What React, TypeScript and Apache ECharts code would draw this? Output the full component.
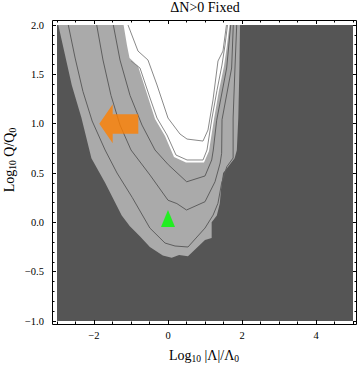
import React, { useEffect, useRef } from "react";
import * as echarts from "echarts";

// ---- tick definitions ----
const xMajorTicks = [-2, 0, 2, 4];
const xMinorStep = 0.5;
const yMajorStep = 0.5;
const yMinorStep = 0.1;

// ---- region boundaries (data units: x = Log10 |Λ|/Λ0, y = Log10 Q/Q0) ----
const lightRegion = [
  [-2.965, 2.0], [-2.6, 1.39], [-2.34, 1.06], [-2.07, 0.65], [-1.7, 0.4],
  [-1.25, 0.07], [-1.03, -0.04], [-0.76, -0.14], [-0.49, -0.25], [-0.14, -0.335],
  [0.1, -0.36], [0.3, -0.33], [0.54, -0.345], [1.0, -0.18], [1.18, -0.16],
  [1.18, 0.0], [1.32, 0.07], [1.4, 0.19], [1.45, 0.4], [1.49, 0.5],
  [1.62, 0.56], [1.8, 0.65], [1.86, 0.73], [1.9, 1.06], [1.93, 1.56], [1.946, 2.0],
];

const whiteRegion = [
  [-1.2, 2.0], [-1.11, 1.797], [-1.04, 1.665], [-0.811, 1.584], [-0.541, 1.27],
  [-0.351, 1.047], [-0.081, 0.875], [0.162, 0.662], [0.486, 0.606], [0.973, 0.606],
  [1.108, 0.723], [1.243, 1.047], [1.378, 1.338], [1.514, 1.584], [1.595, 1.797],
  [1.662, 2.0],
];

const contour1 = [
  [-2.695, 2.0], [-2.51, 1.665], [-2.3, 1.328], [-2.05, 1.027], [-1.7, 0.733],
  [-1.378, 0.5], [-0.97, 0.254], [-0.49, -0.058], [-0.08, -0.21], [0.19, -0.24],
  [0.54, -0.25], [1.0, -0.058], [1.22, 0.074], [1.35, 0.193], [1.45, 0.398],
  [1.59, 0.564], [1.76, 0.652], [1.76, 0.733], [1.76, 1.057], [1.81, 1.564], [1.857, 2.0],
];

const contour2 = [
  [-1.927, 2.0], [-1.757, 1.645], [-1.541, 1.287], [-1.297, 0.986], [-1.0, 0.733],
  [-0.486, 0.479], [0.0, 0.224], [0.24, 0.19], [0.5, 0.125], [1.0, 0.209],
  [1.27, 0.411], [1.41, 0.601], [1.45, 0.7], [1.46, 1.04], [1.72, 1.564], [1.765, 2.0],
];

const contour3 = [
  [-1.478, 2.0], [-1.297, 1.645], [-1.027, 1.287], [-0.703, 0.986], [-0.351, 0.733],
  [0.008, 0.584], [0.505, 0.411], [1.0, 0.47], [1.181, 0.632], [1.224, 0.733],
  [1.316, 1.035], [1.586, 1.564], [1.695, 2.0],
];

const whiteContour1 = [
  [-1.0, 1.635], [-0.757, 1.564], [-0.486, 1.26], [-0.297, 1.057], [-0.027, 0.885],
  [0.216, 0.682], [0.514, 0.632], [0.946, 0.632], [1.054, 0.733], [1.189, 1.057],
  [1.324, 1.338], [1.459, 1.594], [1.541, 1.797], [1.608, 2.0],
];

const whiteContour2 = [
  [-1.081, 2.0], [-0.811, 1.736], [-0.541, 1.645], [-0.297, 1.392], [0.0, 1.057],
  [0.324, 0.895], [0.514, 0.844], [0.946, 0.824], [1.081, 0.936], [1.216, 1.24],
  [1.351, 1.635], [1.486, 1.736], [1.58, 2.0],
];

const arrowMarker = [[-1.33, 1.0]];
const triangleMarker = [[0, 0.04]];

// ---- layout ----
const GRID = { left: 57, top: 25, width: 296, height: 296 };
const FRAME = { left: 52, top: 20, right: 357, bottom: 324 };
const FONT = "Liberation Serif";

const DARK = "#555555";
const LIGHT = "#aaaaaa";
const LINE = "#5e5e5e";
const WLINE = "#8a8a8a";

const fmtX = (v: number) => String(Math.round(v)).replace("-", "\u2212");
const fmtY = (v: number) => v.toFixed(1).replace("-", "\u2212");

function shapeSeries(points: number[][], kind: "polygon" | "polyline", style: any, z: number) {
  return {
    type: "custom",
    coordinateSystem: "cartesian2d",
    xAxisIndex: 0,
    yAxisIndex: 0,
    silent: true,
    z,
    data: points,
    renderItem: (params: any, api: any) => {
      if (params.dataIndex !== 0) return null;
      const pts = points.map((p) => api.coord(p));
      return { type: kind, shape: { points: pts }, style };
    },
  };
}

const baseX = {
  type: "value",
  min: -3,
  max: 5,
  axisLine: { show: false, onZero: false },
  splitLine: { show: false },
  axisPointer: { show: false },
};
const baseY = {
  type: "value",
  min: -1,
  max: 2,
  axisLine: { show: false, onZero: false },
  splitLine: { show: false },
  axisPointer: { show: false },
};
const tickStyle = { color: "#000", width: 1 };

export default function App() {
  const ref = useRef<HTMLDivElement>(null);
  useEffect(() => {
    const chart = echarts.init(ref.current!, null, { renderer: "svg" });
    const subRich = {
      s: { fontSize: 9.5, fontFamily: FONT, verticalAlign: "bottom", lineHeight: 9, fill: "#000" },
    };
    const frameLine = (x1: number, y1: number, x2: number, y2: number) => ({
      type: "line",
      z: 100,
      silent: true,
      shape: { x1, y1, x2, y2 },
      style: { stroke: "#000", lineWidth: 1 },
    });
    const L = FRAME.left + 0.5;
    const R = FRAME.right - 0.5;
    const T = FRAME.top + 0.5;
    const B = FRAME.bottom + 0.5;
    const option: any = {
      animation: false,
      backgroundColor: "#fff",
      grid: {
        left: GRID.left,
        top: GRID.top,
        width: GRID.width,
        height: GRID.height,
        show: true,
        backgroundColor: DARK,
        borderWidth: 0,
      },
      xAxis: [
        {
          ...baseX,
          position: "bottom",
          offset: 3,
          axisTick: { inside: true, length: 4, lineStyle: tickStyle, customValues: xMajorTicks },
          axisLabel: {
            customValues: xMajorTicks,
            formatter: fmtX,
            fontFamily: FONT,
            fontSize: 10.5,
            color: "#000",
            margin: 6,
          },
        },
        {
          ...baseX,
          position: "bottom",
          offset: 3,
          interval: xMinorStep,
          axisTick: { inside: true, length: 2.5, lineStyle: tickStyle },
          axisLabel: { show: false },
        },
        {
          ...baseX,
          position: "top",
          offset: 5,
          axisTick: { inside: true, length: 4, lineStyle: tickStyle, customValues: xMajorTicks },
          axisLabel: { show: false },
        },
        {
          ...baseX,
          position: "top",
          offset: 5,
          interval: xMinorStep,
          axisTick: { inside: true, length: 2.5, lineStyle: tickStyle },
          axisLabel: { show: false },
        },
      ],
      yAxis: [
        {
          ...baseY,
          position: "left",
          offset: 5,
          interval: yMajorStep,
          axisTick: { inside: true, length: 4, lineStyle: tickStyle },
          axisLabel: { formatter: fmtY, fontFamily: FONT, fontSize: 10.5, color: "#000", margin: 8 },
        },
        {
          ...baseY,
          position: "left",
          offset: 5,
          interval: yMinorStep,
          axisTick: { inside: true, length: 2.5, lineStyle: tickStyle },
          axisLabel: { show: false },
        },
        {
          ...baseY,
          position: "right",
          offset: 4,
          interval: yMajorStep,
          axisTick: { inside: true, length: 4, lineStyle: tickStyle },
          axisLabel: { show: false },
        },
        {
          ...baseY,
          position: "right",
          offset: 4,
          interval: yMinorStep,
          axisTick: { inside: true, length: 2.5, lineStyle: tickStyle },
          axisLabel: { show: false },
        },
      ],
      graphic: [
        frameLine(L, T, R, T),
        frameLine(L, B, R, B),
        frameLine(L, T, L, B),
        frameLine(R, T, R, B),
        {
          type: "text",
          x: 205,
          y: 7,
          style: {
            text: "\u0394N>0 Fixed",
            fontFamily: FONT,
            fontSize: 14,
            fill: "#000",
            align: "center",
            verticalAlign: "middle",
          },
        },
        {
          type: "text",
          x: 204,
          y: 355,
          style: {
            text: "Log{s|10} |\u039b|/\u039b{s|0}",
            fontFamily: FONT,
            fontSize: 14,
            lineHeight: 17,
            fill: "#000",
            align: "center",
            verticalAlign: "middle",
            rich: subRich,
          },
        },
        {
          type: "text",
          x: 9,
          y: 160,
          rotation: Math.PI / 2,
          style: {
            text: "Log{s|10} Q/Q{s|0}",
            fontFamily: FONT,
            fontSize: 14,
            lineHeight: 17,
            fill: "#000",
            align: "center",
            verticalAlign: "middle",
            rich: subRich,
          },
        },
      ],
      series: [
        shapeSeries(lightRegion, "polygon", { fill: LIGHT, stroke: null }, 2),
        shapeSeries(contour1, "polyline", { fill: null, stroke: LINE, lineWidth: 1 }, 3),
        shapeSeries(contour2, "polyline", { fill: null, stroke: LINE, lineWidth: 1 }, 3),
        shapeSeries(contour3, "polyline", { fill: null, stroke: LINE, lineWidth: 1 }, 3),
        shapeSeries(whiteRegion, "polygon", { fill: "#ffffff", stroke: null }, 4),
        shapeSeries(whiteContour1, "polyline", { fill: null, stroke: WLINE, lineWidth: 1 }, 5),
        shapeSeries(whiteContour2, "polyline", { fill: null, stroke: WLINE, lineWidth: 1 }, 5),
        {
          type: "scatter",
          xAxisIndex: 0,
          yAxisIndex: 0,
          z: 6,
          silent: true,
          symbol: "path://M0,19.5L13.4,0L13.4,10L39,10L39,29.5L13.4,29.5L13.4,39Z",
          symbolSize: [39, 39],
          itemStyle: { color: "#ff8000" },
          data: arrowMarker,
        },
        {
          type: "scatter",
          xAxisIndex: 0,
          yAxisIndex: 0,
          z: 6,
          silent: true,
          symbol: "triangle",
          symbolSize: [14, 17],
          itemStyle: { color: "#00ff00" },
          data: triangleMarker,
        },
      ],
    };
    chart.setOption(option);
    return () => chart.dispose();
  }, []);
  return (
    <div
      ref={ref}
      style={{ position: "fixed", left: 0, top: 0, width: 360, height: 367, background: "#fff" }}
    />
  );
}
